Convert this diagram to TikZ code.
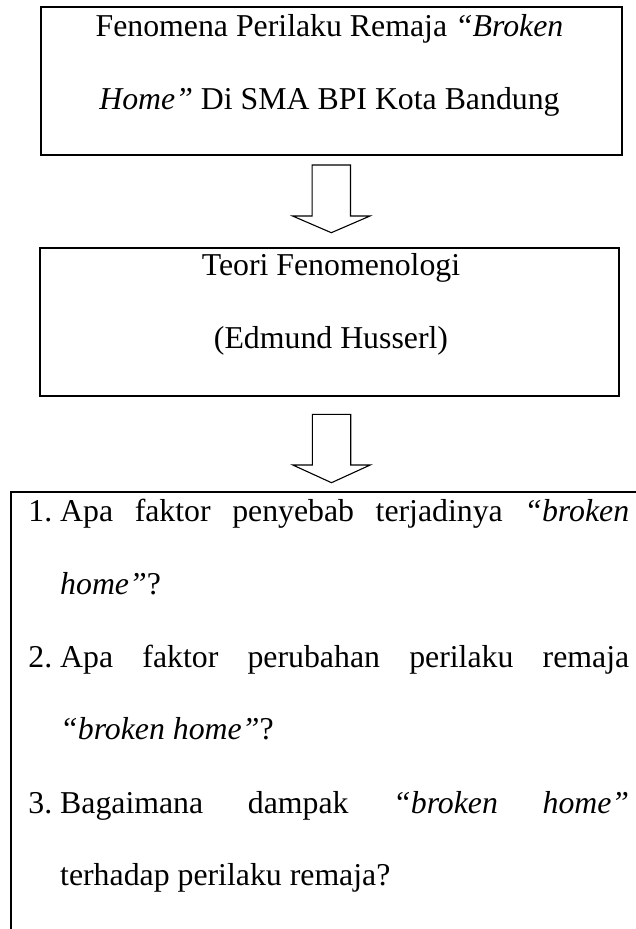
\documentclass[tikz,border=0pt]{standalone}
\usepackage{fontspec}
\setmainfont{Liberation Serif}
\newcommand{\qfont}{\fontsize{31.8pt}{72.5pt}\selectfont}
\newcommand{\blockarrow}[4]{% x, shaft top, head base, tip
  \draw[arrowline] (#1-19.2,#2) -- (#1+19.2,#2) -- (#1+19.2,#3) -- (#1+38.7,#3)
    -- (#1,#4) -- (#1-38.7,#3) -- (#1-19.2,#3) -- cycle;}
\begin{document}
\begin{tikzpicture}[x=1pt,y=-1pt,
  box/.style={draw, line width=2pt, inner sep=0, outer sep=0},
  txt/.style={inner sep=0, anchor=base, font=\qfont},
  qtxt/.style={inner sep=0, anchor=base west, font=\qfont},
  arrowline/.style={draw, line width=1.1pt, line join=miter}]
\useasboundingbox (0,0) rectangle (636,929);
\clip (0,0) rectangle (636,929);
% boxes
\node[box, minimum width=581pt, minimum height=148.3pt] (b1) at (331,81) {};
\node[box, minimum width=578.5pt, minimum height=147.7pt] (b2) at (329.5,321.7) {};
\node[box, anchor=north west, minimum width=700pt, minimum height=500pt] (b3) at (11,491.5) {};
% texts
\node[txt] (t1a) at (329.5,36) {Fenomena Perilaku Remaja \textit{“Broken}};
\node[txt] (t1b) at (329.5,109) {\textit{Home”} Di SMA BPI Kota Bandung};
\node[txt] (t2a) at (331,275) {Teori Fenomenologi};
\node[txt] (t2b) at (331,348) {(Edmund Husserl)};
% arrows
\blockarrow{331.3}{165}{216}{232.7}
\blockarrow{331.5}{414.3}{465}{482.7}
% questions
\node[qtxt] (q1) at (60,521.7) {\parbox[t]{569pt}{\qfont\leavevmode\llap{1.\hspace{8pt}}Apa faktor penyebab terjadinya \textit{“broken}\linebreak \textit{home”}?}};
\node[qtxt] (q2) at (60,667) {\parbox[t]{569pt}{\qfont\leavevmode\llap{2.\hspace{8pt}}Apa faktor perubahan perilaku remaja\linebreak \textit{“broken home”}?}};
\node[qtxt] (q3) at (60,813) {\parbox[t]{569pt}{\qfont\leavevmode\llap{3.\hspace{8pt}}Bagaimana dampak \textit{“broken home”}\linebreak terhadap perilaku remaja?}};
\end{tikzpicture}
\end{document}
